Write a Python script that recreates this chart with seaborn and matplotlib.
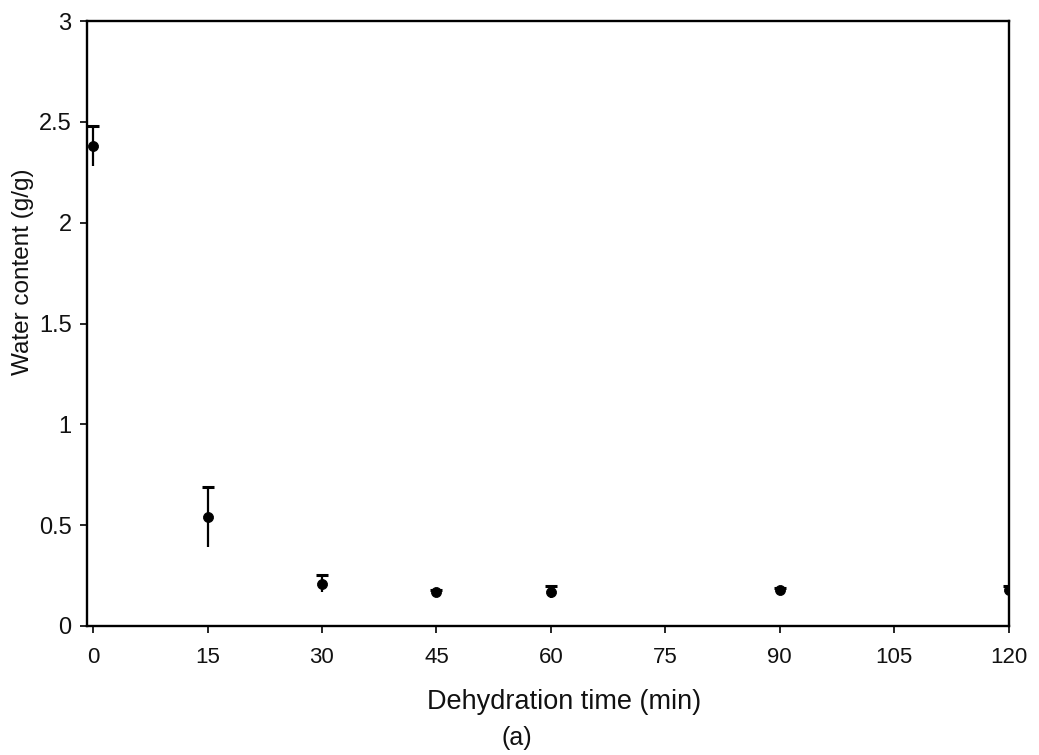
import matplotlib
matplotlib.use("Agg")
import matplotlib.pyplot as plt
import seaborn as sns
import pandas as pd

# Water content during dehydration
time_min = [0, 15, 30, 45, 60, 90, 120]
water_content = [2.38, 0.54, 0.21, 0.17, 0.17, 0.18, 0.18]
std_err = [0.10, 0.15, 0.04, 0.01, 0.03, 0.01, 0.02]
x_ticks = [0, 15, 30, 45, 60, 75, 90, 105, 120]
y_ticks = [0, 0.5, 1, 1.5, 2, 2.5, 3]
y_tick_labels = ["0", "0.5", "1", "1.5", "2", "2.5", "3"]

df = pd.DataFrame({"time": time_min, "water": water_content, "err": std_err})
df["upper"] = df["water"] + df["err"]

sns.set_style("ticks")
plt.rcParams["font.family"] = ["Liberation Sans", "DejaVu Sans"]

fig = plt.figure(figsize=(10.39, 7.55), dpi=100)
ax = fig.add_axes([0.0837, 0.171, 0.887, 0.801])

ax.errorbar(df["time"], df["water"], yerr=df["err"], fmt="none",
            ecolor="black", elinewidth=1.6, capsize=0, zorder=2)
sns.scatterplot(data=df, x="time", y="upper", marker="_", s=80,
                color="black", linewidth=2.2, ax=ax, zorder=3, legend=False)
sns.scatterplot(data=df, x="time", y="water", marker="o", s=52,
                color="black", edgecolor="black", ax=ax, zorder=4, legend=False)

ax.set_xlim(-0.8, 120)
ax.set_ylim(0, 3)
ax.set_xticks(x_ticks)
ax.set_xticklabels([str(t) for t in x_ticks])
ax.set_yticks(y_ticks)
ax.set_yticklabels(y_tick_labels)
ax.tick_params(axis="both", length=5, width=1.2, color="black",
               labelcolor="#111111", direction="out")
ax.tick_params(axis="x", labelsize=16, pad=10)
ax.tick_params(axis="y", labelsize=17, pad=6)

for side in ["left", "right", "top", "bottom"]:
    ax.spines[side].set_visible(True)
    ax.spines[side].set_color("black")
    ax.spines[side].set_linewidth(1.7)

ax.set_xlabel("Dehydration time (min)", fontsize=19.5, color="#111111")
ax.set_ylabel("Water content (g/g)", fontsize=17.5, color="#111111")
ax.xaxis.set_label_coords(0.518, -0.104)
ax.yaxis.set_label_coords(-0.058, 0.585)
fig.text(0.497, 0.006, "(a)", fontsize=18, ha="center", va="bottom", color="#111111")

fig.savefig("out.png", dpi=100, facecolor="white")
